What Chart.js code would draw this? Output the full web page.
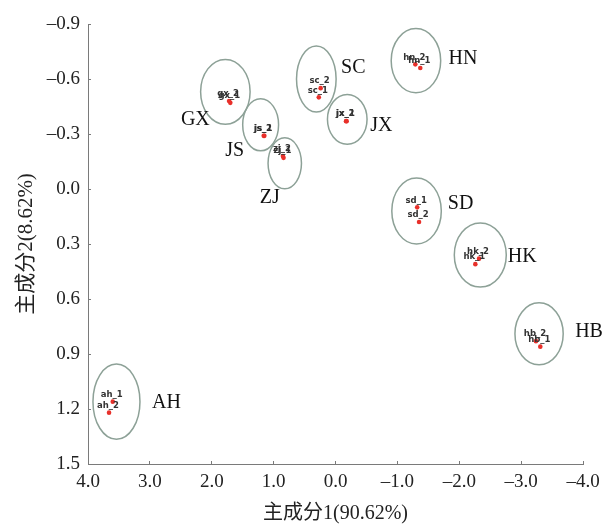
<!DOCTYPE html>
<html>
<head>
<meta charset="utf-8">
<script src="https://cdn.jsdelivr.net/npm/chart.js@4/dist/chart.umd.min.js"></script>
<style>
  html, body { margin: 0; padding: 0; background: #fff; }
  #wrap { width: 614px; height: 525px; }
</style>
</head>
<body>
<div id="wrap"><canvas id="pcaChart"></canvas></div>
<script>
// sample scores on the two principal components
const sampleNames = ['ah_1', 'ah_2', 'gx_1', 'gx_2', 'js_1', 'js_2', 'zj_1', 'zj_2', 'sc_1', 'sc_2',
                     'jx_1', 'jx_2', 'hn_1', 'hn_2', 'sd_1', 'sd_2', 'hk_1', 'hk_2', 'hb_1', 'hb_2'];
const pc1 = [3.60, 3.66, 1.70, 1.72, 1.15, 1.16, 0.84, 0.85, 0.27, 0.24,
             -0.18, -0.17, -1.37, -1.29, -1.32, -1.35, -2.26, -2.32, -3.31, -3.24];
const pc2 = [1.16, 1.22, -0.47, -0.48, -0.29, -0.29, -0.17, -0.18, -0.50, -0.55,
             -0.37, -0.37, -0.66, -0.68, 0.10, 0.18, 0.41, 0.38, 0.86, 0.83];

// confidence ellipses per province (centre and half axes in data units)
const groupNames = ['AH', 'GX', 'JS', 'ZJ', 'SC', 'JX', 'HN', 'SD', 'HK', 'HB'];
const groupCx = [3.54, 1.78, 1.21, 0.82, 0.31, -0.19, -1.30, -1.31, -2.34, -3.29];
const groupCy = [1.16, -0.53, -0.35, -0.14, -0.60, -0.38, -0.70, 0.12, 0.36, 0.79];
const groupRx = [0.38, 0.40, 0.29, 0.27, 0.32, 0.32, 0.40, 0.40, 0.42, 0.39];
const groupRy = [0.205, 0.177, 0.142, 0.139, 0.18, 0.136, 0.175, 0.18, 0.175, 0.169];

const xTickValues = [4, 3, 2, 1, 0, -1, -2, -3, -4];
const yTickValues = [-0.9, -0.6, -0.3, 0.0, 0.3, 0.6, 0.9, 1.2, 1.5];

// where the group name sits relative to its ellipse centre (px)
const labelOffsets = {
    AH: [50, 1], GX: [-30, 28], JS: [-26, 26], ZJ: [-15, 34], SC: [37, -11],
    JX: [34, 6], HN: [47, -2], SD: [44, -7], HK: [42, 2], HB: [50, -2]
};

const serif = "'Liberation Serif', 'Noto Sans CJK SC', serif";

function fmt(v) {
    const s = Math.abs(v).toFixed(1);
    return v < 0 ? '\u2013' + s : s;
}

const ellipsePlugin = {
    id: 'ellipses',
    beforeDatasetsDraw(chart) {
        const { ctx, scales: { x, y } } = chart;
        ctx.save();
        ctx.strokeStyle = '#8da197';
        ctx.lineWidth = 1.5;
        groupNames.forEach((g, i) => {
            const cx = x.getPixelForValue(groupCx[i]);
            const cy = y.getPixelForValue(groupCy[i]);
            const rx = Math.abs(x.getPixelForValue(groupCx[i] + groupRx[i]) - cx);
            const ry = Math.abs(y.getPixelForValue(groupCy[i] + groupRy[i]) - cy);
            ctx.beginPath();
            ctx.ellipse(cx, cy, rx, ry, 0, 0, Math.PI * 2);
            ctx.stroke();

            const off = labelOffsets[g];
            ctx.fillStyle = '#111';
            ctx.font = '20px ' + serif;
            ctx.textAlign = 'center';
            ctx.textBaseline = 'middle';
            ctx.fillText(g, cx + off[0], cy + off[1]);
        });
        ctx.restore();
    },
    afterDatasetsDraw(chart) {
        const { ctx } = chart;
        const meta = chart.getDatasetMeta(0);
        ctx.save();
        ctx.fillStyle = '#333';
        ctx.font = 'bold 8.5px "DejaVu Sans", sans-serif';
        ctx.textAlign = 'center';
        ctx.textBaseline = 'middle';
        meta.data.forEach((pt, i) => {
            ctx.fillText(sampleNames[i], pt.x - 1, pt.y - 7);
        });
        ctx.restore();
    }
};

new Chart(document.getElementById('pcaChart'), {
    type: 'scatter',
    data: {
        datasets: [{
            data: pc1.map((v, i) => ({ x: v, y: pc2[i] })),
            backgroundColor: '#e8302a',
            borderWidth: 0,
            pointRadius: 2.3
        }]
    },
    options: {
        responsive: true,
        maintainAspectRatio: false,
        animation: false,
        layout: { padding: { top: 24, right: 31, left: 0, bottom: 0 } },
        plugins: { legend: { display: false }, tooltip: { enabled: false } },
        scales: {
            x: {
                type: 'linear',
                min: -4, max: 4,
                reverse: true,
                afterBuildTicks: s => { s.ticks = xTickValues.map(v => ({ value: v })); },
                afterFit: s => { s.height = 61; },
                border: { color: '#7a7a7a', width: 1 },
                grid: { drawOnChartArea: false, tickLength: -3, color: '#7a7a7a' },
                ticks: {
                    color: '#222', padding: 10,
                    font: { family: serif, size: 19 },
                    callback: v => fmt(v)
                },
                title: {
                    display: true, text: '主成分1(90.62%)', color: '#222',
                    font: { family: serif, size: 20, lineHeight: 1 },
                    padding: { top: 0, bottom: 1 }
                }
            },
            y: {
                type: 'linear',
                min: -0.9, max: 1.5,
                reverse: true,
                afterBuildTicks: s => { s.ticks = yTickValues.map(v => ({ value: v })); },
                afterFit: s => { s.width = 88; },
                border: { color: '#7a7a7a', width: 1 },
                grid: { drawOnChartArea: false, tickLength: -3, color: '#7a7a7a' },
                ticks: {
                    color: '#222', padding: 11,
                    font: { family: serif, size: 19 },
                    callback: v => fmt(v)
                },
                title: {
                    display: true, text: '主成分2(8.62%)', color: '#222',
                    font: { family: serif, size: 21, lineHeight: 1 },
                    padding: { top: 16, bottom: 0 }
                }
            }
        }
    },
    plugins: [ellipsePlugin]
});
</script>
</body>
</html>
